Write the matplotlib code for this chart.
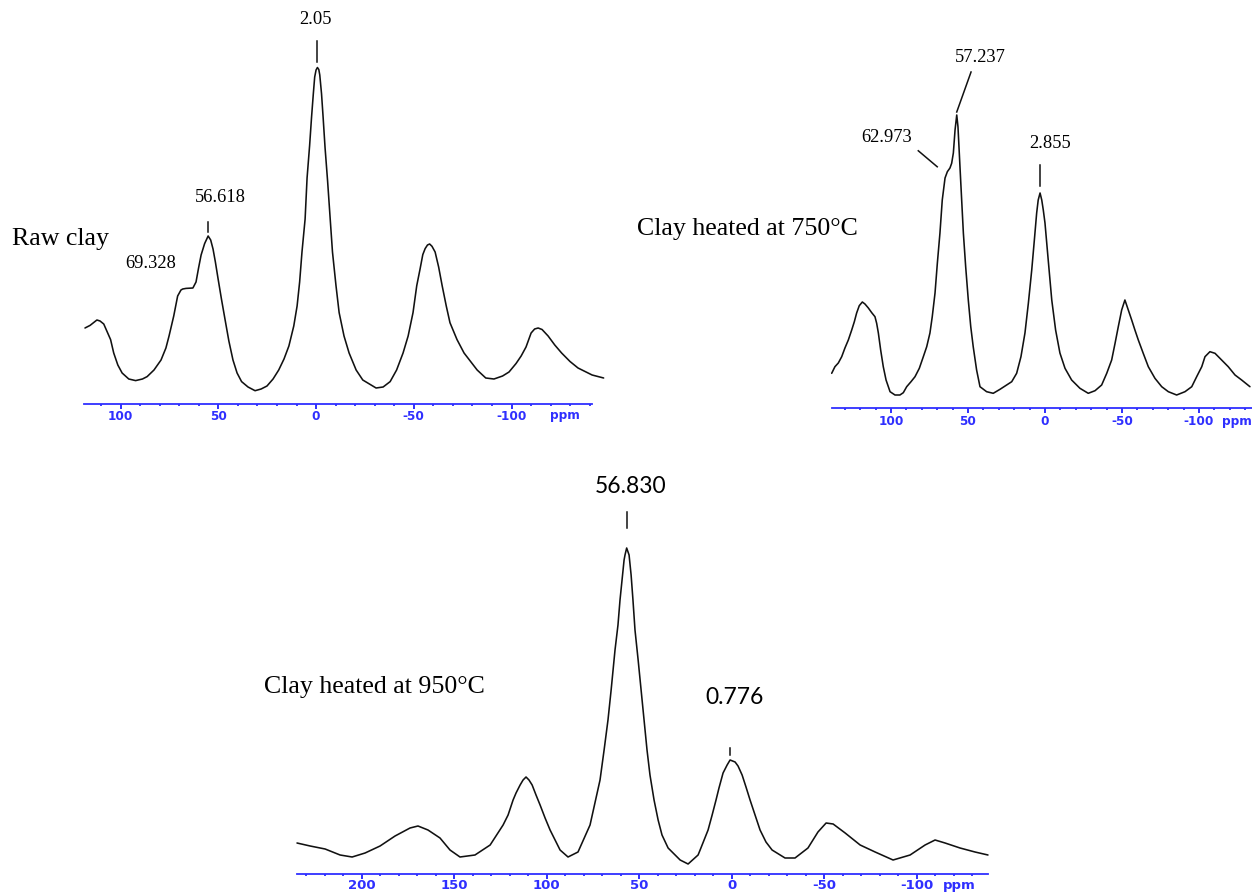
import numpy as np
import matplotlib
matplotlib.use("Agg")
import matplotlib.pyplot as plt
from matplotlib.ticker import MultipleLocator, FuncFormatter

plt.rcParams["axes.unicode_minus"] = False

# ---------------- data (chemical shift in ppm, intensity in arbitrary units) ----------------
raw_ppm = [118.2, 115.6, 112.1, 110.5, 108.6, 105.1, 103.5, 101.4, 99.2, 95.8, 92.3, 88.8,
           86.4, 82.9, 79.3, 76.8, 75.2, 72.8, 70.8, 69.1, 68.2, 66.5, 63.0, 61.4, 60.1,
           58.8, 57.0, 55.2, 53.9, 52.7, 51.5, 50.1, 48.4, 46.6, 44.6, 42.5, 40.4, 38.1,
           34.8, 31.2, 28.1, 25.1, 22.0, 19.1, 16.4, 13.9, 11.4, 9.7, 8.4, 7.2, 5.6, 4.6,
           3.3, 2.3, 1.4, 0.7, 0.0, -0.7, -1.4, -1.9, -2.8, -3.6, -4.6, -5.9, -7.2, -8.4,
           -10.2, -11.8, -14.3, -16.9, -20.5, -23.9, -30.7, -34.3, -37.9, -41.2, -44.5,
           -47.1, -49.6, -51.5, -53.2, -54.6, -55.8, -57.0, -58.1, -59.3, -60.9, -62.7,
           -64.5, -66.6, -68.5, -72.1, -75.7, -82.4, -86.8, -91.0, -95.4, -98.7, -102.3,
           -104.9, -107.4, -110.0, -111.8, -113.6, -115.6, -118.7, -122.1, -125.6, -129.9,
           -134.0, -141.2, -147.1]
raw_int = [76, 78.6, 84, 83, 80, 64.4, 51, 39, 31, 25, 23.4, 25,
           27.4, 34, 44, 56, 68, 88, 108, 114, 115, 115.6, 116, 122, 136,
           149, 160.4, 168, 164, 155, 142, 125, 105, 85, 63, 44, 31, 22.4,
           17, 13.3, 15, 18, 25, 34, 45, 58, 78, 98, 122, 152, 185, 226,
           258.3, 287, 310.2, 327, 334, 336.5, 334.5, 329, 310.2, 287, 256.4, 223, 186, 152,
           118.3, 91.4, 68, 51, 34, 24, 16, 17, 22.4, 34, 51,
           68, 91.4, 118.3, 135, 149.4, 155.4, 159, 160, 157.7, 152, 137,
           118.3, 98, 81.3, 64.4, 51, 34, 26, 25, 28, 32, 40.5,
           48, 57, 71, 75, 76, 74.5, 68, 59, 51, 42.5,
           36, 29, 26]

c750_ppm = [138.5, 136.4, 134.2, 132.0, 129.9, 127.7, 125.5, 123.8, 122.3, 120.6, 118.6,
            116.9, 114.7, 112.5, 110.4, 109.3, 108.2, 106.7, 105.0, 103.2, 100.6, 97.4,
            94.2, 92.0, 89.8, 87.0, 84.4, 81.6, 79.0, 76.8, 74.7, 73.2, 71.4, 69.9, 68.2,
            66.7, 64.9, 63.4, 61.7, 60.6, 59.5, 58.4, 57.3, 56.5, 55.2, 54.1, 53.0, 51.5,
            49.8, 48.2, 46.6, 44.4, 42.2, 37.9, 33.6, 29.2, 24.9, 21.6, 18.4, 15.6, 13.0,
            10.8, 8.6, 6.9, 5.4, 4.4, 3.2, 2.1, 1.1, 0.0, -2.1, -4.4, -6.9, -9.7, -13.0,
            -17.3, -22.7, -28.1, -32.5, -36.8, -40.1, -43.3, -45.5, -47.6, -49.8, -51.9,
            -54.1, -56.3, -58.4, -60.6, -63.8, -67.1, -71.4, -75.8, -80.1, -85.5, -90.9,
            -95.3, -98.5, -101.8, -103.9, -107.1, -110.4, -114.7, -119.0, -123.4, -127.7,
            -133.1]
c750_int = [34.7, 41.3, 45, 51.3, 60, 68, 78, 86.3, 95, 102.3, 106,
            104, 100, 95.3, 91.3, 84.7, 75, 58, 41.3, 28, 16.3, 13,
            13, 15.3, 21.3, 26.3, 31.3, 39.7, 51.3, 61.3, 75, 91.3, 115, 144.7, 175,
            208, 230, 236.3, 240, 244.7, 255, 278, 293, 281.3, 241.3, 208, 175, 141.3,
            108, 81.3, 61.3, 38, 21.3, 16.3, 14.7, 18.7, 23, 26.3, 34.7, 51.3, 75,
            104.7, 138, 168, 195, 208, 215, 208, 198, 185, 148, 108, 78, 55, 39.7,
            28, 19.7, 14.7, 17.3, 23, 34.7, 48, 64.7, 81.3, 98, 108,
            98, 88, 78, 68, 54.7, 41.3, 29.7, 21.3, 16.3, 13, 16.3,
            21.3, 31.3, 41.3, 51.3, 56.3, 54.7, 48, 41.3, 33, 28,
            21.3]

c950_ppm = [235.0, 227.9, 219.8, 211.7, 205.2, 198.2, 190.1, 182.0, 173.9, 169.6, 164.2,
            157.7, 152.3, 146.9, 138.8, 130.6, 123.6, 120.9, 118.2, 116.6, 114.4, 112.8,
            111.2, 109.6, 107.9, 105.8, 103.6, 100.9, 98.2, 95.5, 92.8, 88.5, 83.1, 76.6,
            71.2, 69.0, 66.9, 65.2, 63.1, 61.5, 60.4, 59.3, 58.2, 57.7, 56.8, 55.5, 54.4,
            53.4, 52.3, 50.6, 49.0, 47.4, 45.8, 44.2, 42.0, 39.8, 37.7, 34.4, 27.9, 23.6,
            18.2, 17.1, 12.8, 10.6, 8.5, 6.9, 4.7, 2.5, 0.9, -1.8, -3.4, -5.6, -7.7, -9.9,
            -12.6, -15.3, -18.5, -21.8, -28.8, -34.2, -41.2, -46.6, -51.0, -54.8, -61.3,
            -69.4, -77.5, -87.2, -96.4, -104.5, -109.9, -115.3, -123.4, -131.5, -138.5]
c950_int = [31, 28, 25, 19, 17, 21, 28, 38, 46, 48, 44,
            36, 24, 17, 19, 29, 49, 59, 74, 81, 89, 94,
            97, 94, 89, 79, 69, 56, 44, 34, 24, 17, 22, 49,
            94, 124, 154, 184, 224, 249, 274, 294, 314, 319, 326, 319, 299,
            274, 244, 214, 184, 154, 124, 99, 74, 54, 39, 26, 14, 10,
            19, 24, 44, 59, 74, 86, 101, 109, 114, 112, 108, 99, 87, 74,
            59, 44, 32, 24, 16, 16, 26, 42, 51, 50, 41,
            29, 22, 14, 19, 29, 34, 31, 26, 22, 19]

raw_labels = ["2.05", "56.618", "69.328"]
raw_label_ppm = [2.05, 56.618, 69.328]
c750_labels = ["57.237", "62.973", "2.855"]
c750_label_ppm = [57.237, 62.973, 2.855]
c950_labels = ["56.830", "0.776"]
c950_label_ppm = [56.830, 0.776]

panel_titles = ["Raw clay", "Clay heated at 750°C", "Clay heated at 950°C"]

# ---------------- layout ----------------
W, H = 1252, 892
fig = plt.figure(figsize=(W / 100, H / 100), dpi=100)
BLUE = "#2f2fff"
INK = "#111111"
SERIF = "Liberation Serif"
TICKFONT = "DejaVu Sans"


def fx(x):
    return x / W


def fy(y):
    return 1 - y / H


def make_ax(left, right, bottom, top, x0, ppm_per_px, spine_end, lab_size, lab_pad):
    ax = fig.add_axes([fx(left), fy(bottom), (right - left) / W, (bottom - top) / H])
    ax.set_xlim(x0, x0 - (right - left) * ppm_per_px)
    ax.set_ylim(0, bottom - top)
    for s in ["left", "right", "top"]:
        ax.spines[s].set_visible(False)
    ax.spines["bottom"].set_color(BLUE)
    ax.spines["bottom"].set_linewidth(1.3)
    ax.spines["bottom"].set_bounds(x0, spine_end)
    ax.set_yticks([])
    ax.xaxis.set_major_locator(MultipleLocator(50))
    ax.xaxis.set_minor_locator(MultipleLocator(10))
    ax.xaxis.set_major_formatter(FuncFormatter(lambda v, p: f"{int(round(v))}"))
    ax.tick_params(axis="x", which="major", direction="out", length=3.5, width=1.4,
                   color=BLUE, labelcolor=BLUE, labelsize=lab_size, pad=lab_pad)
    ax.tick_params(axis="x", which="minor", direction="out", length=1.6, width=1.3,
                   color=BLUE)
    for t in ax.get_xticklabels():
        t.set_fontweight("bold")
        t.set_family(TICKFONT)
    ax.patch.set_alpha(0)
    return ax


def peak_at(ppm, inten, target, win=8):
    p = np.asarray(ppm)
    i = np.asarray(inten)
    m = np.abs(p - target) < win
    k = np.argmax(np.where(m, i, -1))
    return p[k], i[k]


line_kw = dict(color=INK, lw=1.15, clip_on=False, solid_joinstyle="round",
               solid_capstyle="round")
ppm_kw = dict(color=BLUE, fontweight="bold", family=TICKFONT, va="center")

# Panel 1 : raw clay
ax1 = make_ax(84, 604, 404, 40, 118.7, 1 / 1.955, -141.2, 8.7, 0.6)
ax1.plot(raw_ppm, raw_int, **line_kw)
fig.text(fx(565), fy(416), "ppm", fontsize=8.7, ha="center", **ppm_kw)

# Panel 2 : 750 C
ax2 = make_ax(832, 1252, 408, 40, 138.3, 1 / 1.54, -134.4, 8.7, 1.4)
ax2.plot(c750_ppm, c750_int, **line_kw)
fig.text(fx(1222), fy(422), "ppm", fontsize=8.7, ha="left", **ppm_kw)

# Panel 3 : 950 C
ax3 = make_ax(297, 990, 874, 470, 235.0, 1 / 1.85, -138.6, 9.5, 0.1)
ax3.plot(c950_ppm, c950_int, **line_kw)
fig.text(fx(959), fy(885.5), "ppm", fontsize=9.5, ha="center", **ppm_kw)

# ---------------- annotations ----------------
def vtick(ax, ppm, inten, target, gap, length):
    xp, yp = peak_at(ppm, inten, target)
    ax.plot([xp, xp], [yp + gap, yp + gap + length], color=INK, lw=1.1, clip_on=False)
    return xp, yp


vtick(ax1, raw_ppm, raw_int, raw_label_ppm[0], 5, 21)
vtick(ax1, raw_ppm, raw_int, raw_label_ppm[1], 4, 10)
vtick(ax2, c750_ppm, c750_int, c750_label_ppm[2], 7, 21)
vtick(ax3, c950_ppm, c950_int, c950_label_ppm[0], 20, 16)
vtick(ax3, c950_ppm, c950_int, c950_label_ppm[1], 5, 7)

# slanted pointer lines, panel 2
xp, yp = peak_at(c750_ppm, c750_int, c750_label_ppm[0])
ax2.plot([xp, xp - 14.3 / 1.54], [yp + 3, yp + 43], color=INK, lw=1.1, clip_on=False)
ys = np.interp(c750_label_ppm[1], c750_ppm[::-1], c750_int[::-1])
ax2.plot([c750_label_ppm[1] + 7.0, c750_label_ppm[1] + 19.3], [ys + 4, ys + 20],
         color=INK, lw=1.1, clip_on=False)

num_kw = dict(family=SERIF, fontsize=13.3, ha="center", va="center", color="black")
fig.text(fx(316), fy(20), raw_labels[0], **num_kw)
fig.text(fx(220), fy(198), raw_labels[1], **num_kw)
fig.text(fx(151), fy(264), raw_labels[2], **num_kw)
fig.text(fx(980), fy(58), c750_labels[0], **num_kw)
fig.text(fx(887), fy(137), c750_labels[1], **num_kw)
fig.text(fx(1050), fy(144), c750_labels[2], **num_kw)

sans_kw = dict(family=["Lato", "DejaVu Sans"], fontsize=16.5, ha="center", va="center",
               color="black")
fig.text(fx(631), fy(487), c950_labels[0], **sans_kw)
fig.text(fx(735), fy(698), c950_labels[1], **sans_kw)

title_kw = dict(family=SERIF, fontsize=18.6, ha="left", va="center", color="black")
fig.text(fx(12), fy(239), panel_titles[0], **title_kw)
fig.text(fx(637), fy(229), panel_titles[1], **title_kw)
fig.text(fx(264), fy(687), panel_titles[2], **title_kw)

fig.savefig("out.png", dpi=100)
